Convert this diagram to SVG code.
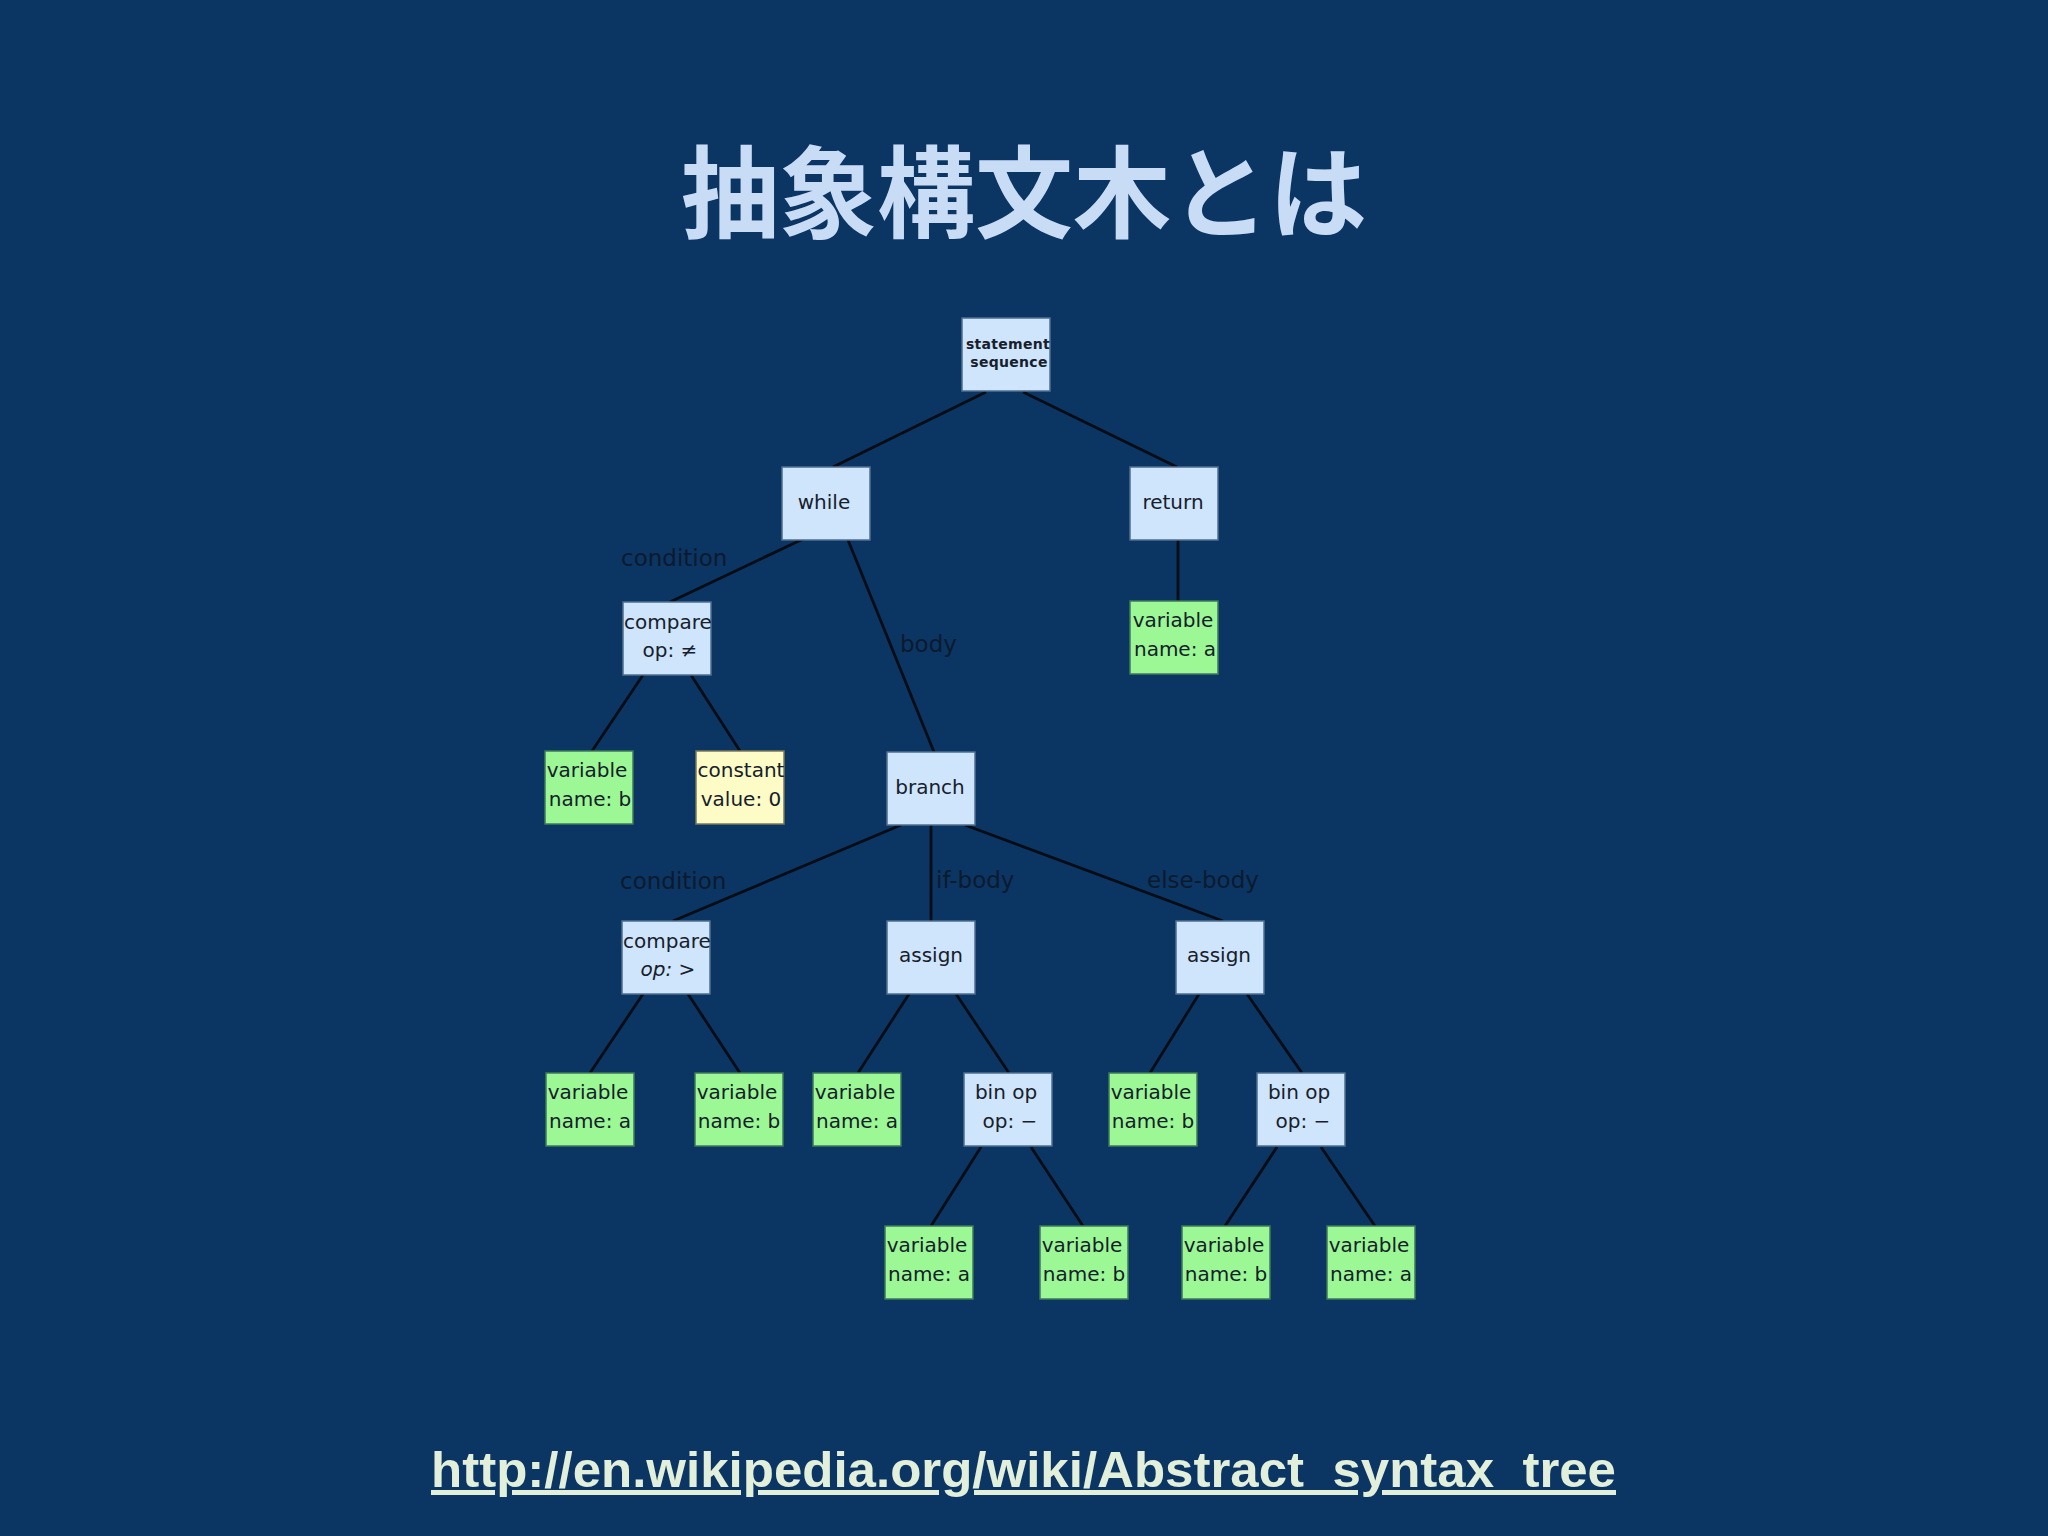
<svg xmlns="http://www.w3.org/2000/svg" width="2048" height="1536" viewBox="0 0 2048 1536">
<style>
.bg{fill:#0b3563}
.nb{fill:#cfe5fb;stroke:#4f6f8f;stroke-width:1.5}
.ng{fill:#9cf895;stroke:#3f7a5a;stroke-width:1.5}
.ny{fill:#fdfcc6;stroke:#7a7a5a;stroke-width:1.5}
.t{font-family:"DejaVu Sans",Verdana,sans-serif;font-size:20px;fill:#16202c;text-anchor:middle}
.ts{font-family:"DejaVu Sans",Verdana,sans-serif;font-size:14px;font-weight:bold;fill:#16202c;text-anchor:middle;letter-spacing:0.3px}
.el{font-family:"DejaVu Sans",Verdana,sans-serif;font-size:23px;fill:#0c1a2e}
.edge{stroke:#080c14;stroke-width:2.8;fill:none}
</style>
<rect class="bg" x="0" y="0" width="2048" height="1536"/>
<text x="681" y="230" font-family="'Noto Sans CJK JP','Noto Sans CJK SC',sans-serif" font-weight="bold" font-size="100" fill="#c9dcf6" textLength="686" lengthAdjust="spacingAndGlyphs">抽象構文木とは</text>

<g id="connectors">
<line class="edge" x1="986" y1="392" x2="833" y2="467"/>
<line class="edge" x1="1023" y1="392" x2="1177" y2="467"/>
<line class="edge" x1="1178" y1="540" x2="1178" y2="601"/>
<line class="edge" x1="803" y1="539" x2="670" y2="602"/>
<line class="edge" x1="848" y1="540" x2="934" y2="752"/>
<line class="edge" x1="643" y1="675" x2="592" y2="751"/>
<line class="edge" x1="691" y1="675" x2="740" y2="751"/>
<line class="edge" x1="901" y1="825" x2="673" y2="921"/>
<line class="edge" x1="931" y1="825" x2="931" y2="921"/>
<line class="edge" x1="965" y1="825" x2="1223" y2="921"/>
<line class="edge" x1="643" y1="994" x2="590" y2="1073"/>
<line class="edge" x1="688" y1="994" x2="740" y2="1073"/>
<line class="edge" x1="909" y1="994" x2="858" y2="1073"/>
<line class="edge" x1="956" y1="994" x2="1009" y2="1073"/>
<line class="edge" x1="1199" y1="994" x2="1150" y2="1073"/>
<line class="edge" x1="1247" y1="994" x2="1302" y2="1073"/>
<line class="edge" x1="981" y1="1147" x2="931" y2="1226"/>
<line class="edge" x1="1031" y1="1147" x2="1083" y2="1226"/>
<line class="edge" x1="1277" y1="1147" x2="1225" y2="1226"/>
<line class="edge" x1="1321" y1="1147" x2="1375" y2="1226"/>
<text class="el" x="621" y="566">condition</text>
<text class="el" x="900" y="652">body</text>
<text class="el" x="620" y="889">condition</text>
<text class="el" x="936" y="888">if-body</text>
<text class="el" x="1147" y="888">else-body</text>
</g>

<g id="n_stmt"><rect class="nb" x="962" y="318" width="88" height="73"/><text class="ts" x="1008" y="349">statement</text><text class="ts" x="1009" y="367">sequence</text></g>
<g id="n_while"><rect class="nb" x="782" y="467" width="88" height="73"/><text class="t" x="824" y="509">while</text></g>
<g id="n_return"><rect class="nb" x="1130" y="467" width="88" height="73"/><text class="t" x="1173" y="509">return</text></g>
<g id="n_var_ret"><rect class="ng" x="1130" y="601" width="88" height="73"/><text class="t" x="1173" y="627">variable</text><text class="t" x="1175" y="656">name: a</text></g>
<g id="n_cmp1"><rect class="nb" x="623" y="602" width="88" height="73"/><text class="t" x="668" y="629">compare</text><text class="t" x="670" y="657">op: ≠</text></g>
<g id="n_var_b1"><rect class="ng" x="545" y="751" width="88" height="73"/><text class="t" x="587" y="777">variable</text><text class="t" x="590" y="806">name: b</text></g>
<g id="n_const"><rect class="ny" x="696" y="751" width="88" height="73"/><text class="t" x="741" y="777">constant</text><text class="t" x="741" y="806">value: 0</text></g>
<g id="n_branch"><rect class="nb" x="887" y="752" width="88" height="73"/><text class="t" x="930" y="794">branch</text></g>
<g id="n_cmp2"><rect class="nb" x="622" y="921" width="88" height="73"/><text class="t" x="667" y="948">compare</text><text class="t" x="668" y="976"><tspan font-style="italic">op:</tspan> &gt;</text></g>
<g id="n_assign1"><rect class="nb" x="887" y="921" width="88" height="73"/><text class="t" x="931" y="962">assign</text></g>
<g id="n_assign2"><rect class="nb" x="1176" y="921" width="88" height="73"/><text class="t" x="1219" y="962">assign</text></g>
<g id="n_var_a2"><rect class="ng" x="546" y="1073" width="88" height="73"/><text class="t" x="588" y="1099">variable</text><text class="t" x="590" y="1128">name: a</text></g>
<g id="n_var_b2"><rect class="ng" x="695" y="1073" width="88" height="73"/><text class="t" x="737" y="1099">variable</text><text class="t" x="739" y="1128">name: b</text></g>
<g id="n_var_a3"><rect class="ng" x="813" y="1073" width="88" height="73"/><text class="t" x="855" y="1099">variable</text><text class="t" x="857" y="1128">name: a</text></g>
<g id="n_binop1"><rect class="nb" x="964" y="1073" width="88" height="73"/><text class="t" x="1006" y="1099">bin op</text><text class="t" x="1010" y="1128">op: −</text></g>
<g id="n_var_b3"><rect class="ng" x="1109" y="1073" width="88" height="73"/><text class="t" x="1151" y="1099">variable</text><text class="t" x="1153" y="1128">name: b</text></g>
<g id="n_binop2"><rect class="nb" x="1257" y="1073" width="88" height="73"/><text class="t" x="1299" y="1099">bin op</text><text class="t" x="1303" y="1128">op: −</text></g>
<g id="n_var_a4"><rect class="ng" x="885" y="1226" width="88" height="73"/><text class="t" x="927" y="1252">variable</text><text class="t" x="929" y="1281">name: a</text></g>
<g id="n_var_b4"><rect class="ng" x="1040" y="1226" width="88" height="73"/><text class="t" x="1082" y="1252">variable</text><text class="t" x="1084" y="1281">name: b</text></g>
<g id="n_var_b5"><rect class="ng" x="1182" y="1226" width="88" height="73"/><text class="t" x="1224" y="1252">variable</text><text class="t" x="1226" y="1281">name: b</text></g>
<g id="n_var_a5"><rect class="ng" x="1327" y="1226" width="88" height="73"/><text class="t" x="1369" y="1252">variable</text><text class="t" x="1371" y="1281">name: a</text></g>

<text x="431" y="1487" font-family="'Liberation Sans',Arial,sans-serif" font-weight="bold" font-size="50" fill="#e2efdb" text-decoration="underline" textLength="1185" lengthAdjust="spacingAndGlyphs">http://en.wikipedia.org/wiki/Abstract_syntax_tree</text>
</svg>
